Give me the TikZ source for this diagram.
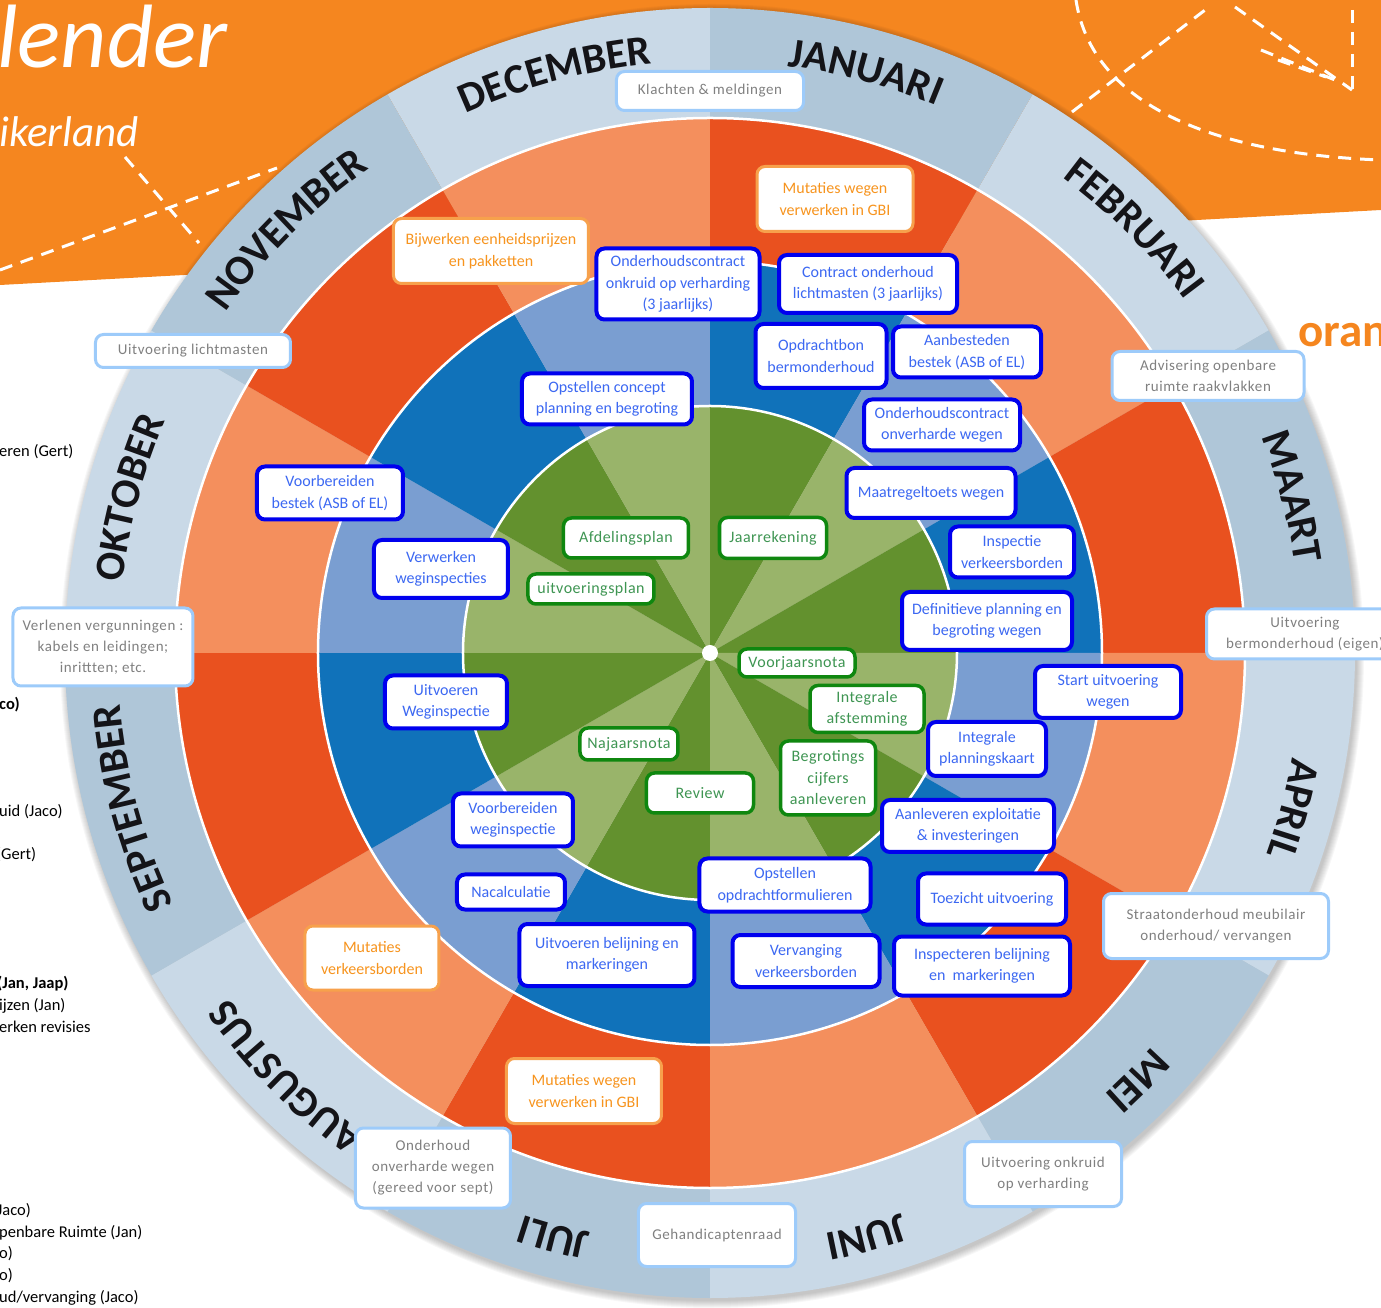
\documentclass[tikz,border=0pt]{standalone}
\usepackage{fontspec}
\setmainfont{Carlito}
\newfontfamily\trackfont{Carlito}[LetterSpace=4]
\newfontfamily\trackfontb{Carlito}[LetterSpace=3]
\usetikzlibrary{decorations.text}
\definecolor{bgorange}{HTML}{F5861F}
\definecolor{ringgreyd}{HTML}{AFC6D8}
\definecolor{ringgreyl}{HTML}{C9D9E7}
\definecolor{ringredd}{HTML}{E9511F}
\definecolor{ringredl}{HTML}{F48F5D}
\definecolor{ringblued}{HTML}{1072BA}
\definecolor{ringbluel}{HTML}{7A9ED1}
\definecolor{ringgreend}{HTML}{63912E}
\definecolor{ringgreenl}{HTML}{99B46A}
\definecolor{monthc}{HTML}{141418}
\definecolor{greyline}{HTML}{9DCBFA}
\definecolor{greytext}{HTML}{808080}
\definecolor{orangeline}{HTML}{F7A14C}
\definecolor{orangetext}{HTML}{F7941E}
\definecolor{blueline}{HTML}{0000EE}
\definecolor{bluetext}{HTML}{3C68F2}
\definecolor{greenline}{HTML}{0F870F}
\definecolor{greentext}{HTML}{3E9552}
\newcommand\greyfont{\trackfont\fontsize{15}{21}\selectfont}
\newcommand\boxfont{\fontsize{16}{21.5}\selectfont}
\newcommand\greenfont{\trackfontb\fontsize{16}{21.5}\selectfont}
\newcommand\monthfont{\bfseries\fontsize{42}{42}\selectfont}

\begin{document}
\begin{tikzpicture}[x=1pt,y=1pt,
  wbox/.style={fill=white,rounded corners=8pt,align=center,inner sep=2pt},
  greybox/.style={wbox,draw=greyline,line width=3pt,text=greytext,font=\greyfont},
  orangebox/.style={wbox,draw=orangeline,line width=3pt,text=orangetext,font=\boxfont},
  bluebox/.style={wbox,draw=blueline,line width=4pt,text=bluetext,font=\boxfont},
  greenbox/.style={wbox,draw=greenline,line width=3.5pt,text=greentext,font=\greenfont},
  sidetext/.style={anchor=base west,inner sep=0pt,font=\fontsize{16.5}{16.5}\selectfont},
  dashline/.style={white,line width=3pt,dash pattern=on 13pt off 9pt}]
\useasboundingbox (-710,-655) rectangle (671,653);
\clip (-710,-655) rectangle (671,653);

% orange banner
\fill[bgorange] (-710,653) -- (671,653) -- (671,443) -- (-710,368) -- cycle;
\draw[dashline] (-710,383) -- (-433,485);
\draw[dashline] (-585,496) -- (-511,410);
\draw[dashline] (366,653) .. controls (380,560) and (480,500) .. (671,493);
\draw[dashline] (362,541) -- (499,646);
\draw[dashline] (525,646) -- (642,563);
\draw[dashline] (642,643) -- (642,563);
\draw[dashline] (551,603) -- (625,573);
\draw[dashline] (568,593) -- (616,576);
\node[anchor=base west,inner sep=0pt,text=white,font=\itshape\fontsize{90}{90}\selectfont](t_title) at (-713,585) {lender};
\node[anchor=base west,inner sep=0pt,text=white,font=\itshape\fontsize{43}{43}\selectfont](t_sub) at (-711,506) {ikerland};
\node[anchor=base west,inner sep=0pt,text=bgorange,font=\bfseries\fontsize{47}{47}\selectfont](t_oran) at (588,306) {oran};

% cut-off legend on the left
\node[sidetext](l_1) at (-711,196) {eren (Gert)};
\node[sidetext,font=\bfseries\fontsize{16.5}{16.5}\selectfont](l_2) at (-711,-57) {co)};
\node[sidetext](l_3) at (-711,-164) {uid (Jaco)};
\node[sidetext](l_4) at (-714,-207) {(Gert)};
\node[sidetext,font=\bfseries\fontsize{16.5}{16.5}\selectfont](l_5) at (-713,-335) {(Jan, Jaap)};
\node[sidetext](l_6) at (-711,-357) {ijzen (Jan)};
\node[sidetext](l_7) at (-711,-379) {erken revisies};
\node[sidetext](l_8) at (-713,-562) {Jaco)};
\node[sidetext](l_9) at (-711,-584) {penbare Ruimte (Jan)};
\node[sidetext](l_10) at (-711,-605) {o)};
\node[sidetext](l_11) at (-711,-627) {o)};
\node[sidetext](l_12) at (-711,-649) {ud/vervanging (Jaco)};

% wheel
\foreach \k in {1,...,8}
  \fill[black,opacity=0.03] (2,-3) circle[radius=644+\k];
\foreach \s/\tn in {90/d,60/l,30/d,0/l,-30/d,-60/l,-90/d,-120/l,-150/d,-180/l,-210/d,-240/l}{
  \fill[ringgrey\tn] (\s:535) arc[start angle=\s,end angle=\s-30,radius=535]
    -- ({\s-30}:645) arc[start angle=\s-30,end angle=\s,radius=645] -- cycle;
  \fill[ringred\tn] (\s:392) arc[start angle=\s,end angle=\s-30,radius=392]
    -- ({\s-30}:535) arc[start angle=\s-30,end angle=\s,radius=535] -- cycle;
  \fill[ringblue\tn] (\s:247) arc[start angle=\s,end angle=\s-30,radius=247]
    -- ({\s-30}:392) arc[start angle=\s-30,end angle=\s,radius=392] -- cycle;
  \fill[ringgreen\tn] (0,0) -- (\s:247) arc[start angle=\s,end angle=\s-30,radius=247] -- cycle;
}
\foreach \r in {535,392,247}
  \draw[white,line width=2.5pt] (0,0) circle[radius=\r];
\fill[white] (0,0) circle[radius=8];

% month names
\foreach \mname [count=\i] in {JANUARI,FEBRUARI,MAART,APRIL,MEI,JUNI,JULI,AUGUSTUS,SEPTEMBER,OKTOBER,NOVEMBER,DECEMBER}{
  \pgfmathsetmacro\amid{105-30*\i}
  \path[decorate,decoration={text along path,text align=center,text color=monthc,
      text/.expanded={|\noexpand\monthfont|\mname}}]
    ({\amid+40}:592) arc[start angle=\amid+40,end angle=\amid-40,radius=592];
}

% outer ring
\node[greybox,minimum width=187pt,minimum height=39pt](g_klacht) at (0,562) {Klachten \& meldingen};
\node[greybox,minimum width=192pt,minimum height=49pt](g_advies) at (498,277) {Advisering openbare\\ruimte raakvlakken};
\node[greybox,minimum width=197pt,minimum height=50pt](g_berm) at (595,19) {Uitvoering\\bermonderhoud (eigen)};
\node[greybox,minimum width=225pt,minimum height=65pt](g_straat) at (506,-273) {Straatonderhoud meubilair\\onderhoud/ vervangen};
\node[greybox,minimum width=157pt,minimum height=65pt](g_onkruid) at (333,-521) {Uitvoering onkruid\\op verharding};
\node[greybox,minimum width=157pt,minimum height=63pt](g_gehand) at (7,-582) {Gehandicaptenraad};
\node[greybox,minimum width=155pt,minimum height=80pt](g_onverh) at (-277,-515) {Onderhoud\\onverharde wegen\\(gereed voor sept)};
\node[greybox,minimum width=180pt,minimum height=78pt](g_vergun) at (-607,6) {Verlenen vergunningen :\\kabels en leidingen;\\inrittten; etc.};
\node[greybox,minimum width=195pt,minimum height=33pt](g_licht) at (-517,302) {Uitvoering lichtmasten};

% orange ring
\node[orangebox,minimum width=156pt,minimum height=65pt](o_mutweg1) at (125,454) {Mutaties wegen\\verwerken in GBI};
\node[orangebox,minimum width=195pt,minimum height=65pt](o_bijwerk) at (-219,402) {Bijwerken eenheidsprijzen\\en pakketten};
\node[orangebox,minimum width=134pt,minimum height=64pt](o_mutverk) at (-338,-305) {Mutaties\\verkeersborden};
\node[orangebox,minimum width=155pt,minimum height=65pt](o_mutweg2) at (-126,-438) {Mutaties wegen\\verwerken in GBI};

% blue ring
\node[bluebox,minimum width=163pt,minimum height=71pt](b_onkruid) at (-32,369) {Onderhoudscontract\\onkruid op verharding\\(3 jaarlijks)};
\node[bluebox,minimum width=178pt,minimum height=58pt](b_licht) at (158,369) {Contract onderhoud\\lichtmasten (3 jaarlijks)};
\node[bluebox,minimum width=131pt,minimum height=64pt](b_opdracht) at (111,297) {Opdrachtbon\\bermonderhoud};
\node[bluebox,minimum width=148pt,minimum height=51pt](b_aanbest) at (257,301) {Aanbesteden\\bestek (ASB of EL)};
\node[bluebox,minimum width=170pt,minimum height=51pt](b_concept) at (-103,254) {Opstellen concept\\planning en begroting};
\node[bluebox,minimum width=156pt,minimum height=51pt](b_onverh) at (232,228) {Onderhoudscontract\\onverharde wegen};
\node[bluebox,minimum width=169pt,minimum height=50pt](b_maatregel) at (221,160) {Maatregeltoets wegen};
\node[bluebox,minimum width=146pt,minimum height=53pt](b_bestek) at (-380,160) {Voorbereiden\\bestek (ASB of EL)};
\node[bluebox,minimum width=134pt,minimum height=58pt](b_verwerk) at (-269,84) {Verwerken\\weginspecties};
\node[bluebox,minimum width=124pt,minimum height=51pt](b_inspectie) at (302,101) {Inspectie\\verkeersborden};
\node[bluebox,minimum width=170pt,minimum height=58pt](b_definitief) at (277,32) {Definitieve planning en\\begroting wegen};
\node[bluebox,minimum width=146pt,minimum height=52pt](b_start) at (398,-39) {Start uitvoering\\wegen};
\node[bluebox,minimum width=122pt,minimum height=53pt](b_uitvoeren) at (-264,-49) {Uitvoeren\\Weginspectie};
\node[bluebox,minimum width=118pt,minimum height=54pt](b_integraal) at (277,-96) {Integrale\\planningskaart};
\node[bluebox,minimum width=120pt,minimum height=53pt](b_voorber) at (-197,-167) {Voorbereiden\\weginspectie};
\node[bluebox,minimum width=172pt,minimum height=52pt](b_exploit) at (258,-173) {Aanleveren exploitatie\\\& investeringen};
\node[bluebox,minimum width=108pt,minimum height=35pt](b_nacalc) at (-199,-239) {Nacalculatie};
\node[bluebox,minimum width=171pt,minimum height=53pt](b_opdrform) at (75,-232) {Opstellen\\opdrachtformulieren};
\node[bluebox,minimum width=148pt,minimum height=51pt](b_toezicht) at (282,-246) {Toezicht uitvoering};
\node[bluebox,minimum width=175pt,minimum height=62pt](b_belijning) at (-103,-302) {Uitvoeren belijning en\\markeringen};
\node[bluebox,minimum width=147pt,minimum height=52pt](b_vervang) at (96,-308) {Vervanging\\verkeersborden};
\node[bluebox,minimum width=176pt,minimum height=59pt](b_inspbel) at (272,-313) {Inspecteren belijning\\en\ \ markeringen};

% green core
\node[greenbox,minimum width=125pt,minimum height=40pt](gr_afdeling) at (-84,115) {Afdelingsplan};
\node[greenbox,minimum width=107pt,minimum height=41pt](gr_jaarrek) at (63,115) {Jaarrekening};
\node[greenbox,minimum width=126pt,minimum height=30pt](gr_uitvplan) at (-119,64) {uitvoeringsplan};
\node[greenbox,minimum width=116pt,minimum height=28pt](gr_voorjaar) at (87,-10) {Voorjaarsnota};
\node[greenbox,minimum width=114pt,minimum height=47pt](gr_afstem) at (157,-56) {Integrale\\afstemming};
\node[greenbox,minimum width=98pt,minimum height=32pt](gr_najaar) at (-81,-91) {Najaarsnota};
\node[greenbox,minimum width=95pt,minimum height=74pt](gr_begroot) at (118,-125) {Begrotings\\cijfers\\aanleveren};
\node[greenbox,minimum width=107pt,minimum height=40pt](gr_review) at (-10,-140) {Review};
\end{tikzpicture}
\end{document}
